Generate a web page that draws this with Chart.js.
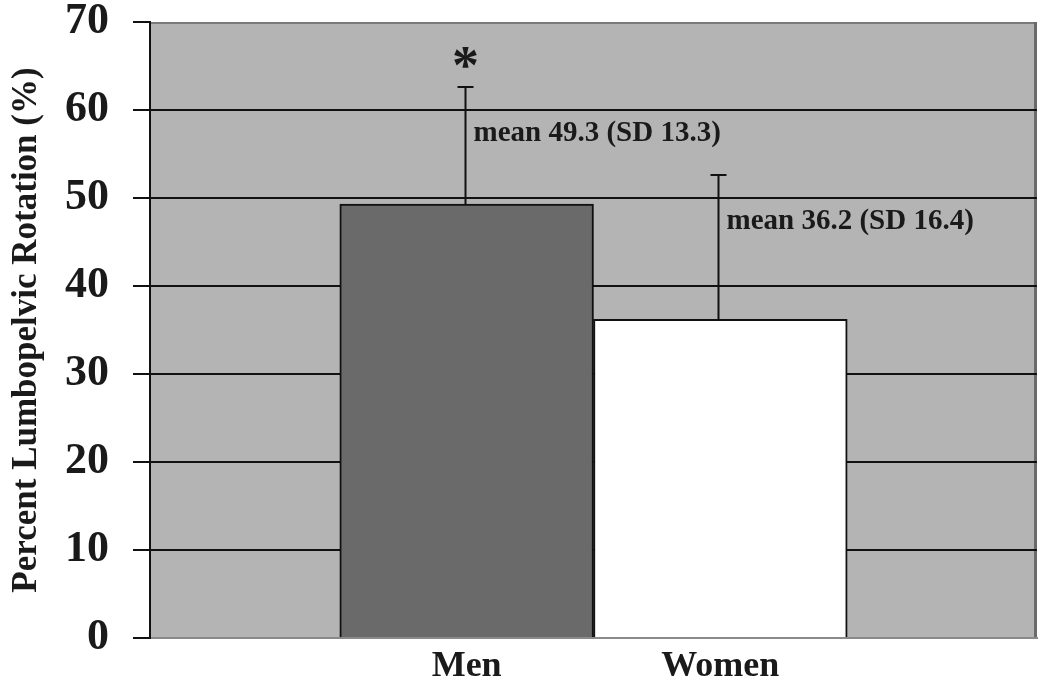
<!DOCTYPE html>
<html>
<head>
<meta charset="utf-8">
<script src="https://cdn.jsdelivr.net/npm/chart.js@4/dist/chart.umd.min.js"></script>
<style>
    html, body { margin: 0; padding: 0; background: #ffffff; }
    #wrap { width: 1050px; height: 682px; }
</style>
</head>
<body>
<div id="wrap"><canvas id="chart" width="1050" height="682"></canvas></div>
<script>
const categories = ['Men', 'Women'];
const means = [49.3, 36.2];
const sds = [13.3, 16.4];
const significance = ['*', ''];
const barColors = ['#6a6a6a', '#ffffff'];
const yTicks = [0, 10, 20, 30, 40, 50, 60, 70];

const serif = '"Liberation Serif", "Times New Roman", serif';
const plotBg = '#b4b4b4';

// grey panel behind the bars plus its frame
const panelPlugin = {
    id: 'panel',
    beforeDraw(chart) {
        const { ctx, chartArea: a } = chart;
        ctx.save();
        ctx.fillStyle = plotBg;
        ctx.fillRect(a.left, a.top, a.right - a.left, a.bottom - a.top);
        ctx.strokeStyle = '#7a7a7a';
        ctx.lineWidth = 2;
        ctx.beginPath();
        ctx.moveTo(a.left, a.top + 1);
        ctx.lineTo(a.right, a.top + 1);
        ctx.stroke();
        ctx.strokeStyle = '#6a6a6a';
        ctx.lineWidth = 3;
        ctx.beginPath();
        ctx.moveTo(a.right - 1.5, a.top);
        ctx.lineTo(a.right - 1.5, a.bottom);
        ctx.stroke();
        ctx.restore();
    }
};

// SD whiskers, annotations and the significance star
const errorPlugin = {
    id: 'errors',
    afterDatasetsDraw(chart) {
        const { ctx, scales: { y } } = chart;
        const meta = chart.getDatasetMeta(0);
        ctx.save();
        meta.data.forEach((bar, i) => {
            const x = Math.round(bar.x) - 1.5;
            const top = y.getPixelForValue(means[i] + sds[i]);
            const base = y.getPixelForValue(means[i]);
            ctx.strokeStyle = '#111';
            ctx.lineWidth = 2;
            ctx.beginPath();
            ctx.moveTo(x, base);
            ctx.lineTo(x, top);
            ctx.moveTo(x - 8, top);
            ctx.lineTo(x + 8, top);
            ctx.stroke();

            ctx.fillStyle = '#1a1a1a';
            ctx.font = 'bold 29px ' + serif;
            ctx.textAlign = 'left';
            ctx.textBaseline = 'middle';
            const labelY = y.getPixelForValue(means[i] + sds[i] - 5.3);
            ctx.fillText(`mean ${means[i]} (SD ${sds[i]})`, x + 8, labelY);

            if (significance[i]) {
                ctx.font = 'bold 54px ' + serif;
                ctx.textAlign = 'center';
                ctx.textBaseline = 'alphabetic';
                const m = ctx.measureText(significance[i]);
                const centerY = top - 30;
                const baseline = centerY + (m.actualBoundingBoxAscent - m.actualBoundingBoxDescent) / 2;
                ctx.fillText(significance[i], x, baseline);
            }
        });
        ctx.restore();
    }
};

new Chart(document.getElementById('chart'), {
    type: 'bar',
    data: {
        datasets: [{
            data: categories.map((c, i) => ({ x: i + 1, y: means[i] })),
            backgroundColor: barColors,
            borderColor: '#111',
            borderWidth: 2,
            barPercentage: 1,
            categoryPercentage: 1
        }]
    },
    options: {
        responsive: false,
        animation: false,
        layout: { padding: { top: 22, right: 13, bottom: 0, left: 0 } },
        plugins: {
            legend: { display: false },
            tooltip: { enabled: false }
        },
        scales: {
            x: {
                type: 'linear',
                offset: false,
                min: -0.248,
                max: 3.248,
                afterBuildTicks: scale => {
                    scale.ticks = categories.map((c, i) => ({ value: i + 1 }));
                },
                afterFit: scale => {
                    scale.height = 44;
                    scale.paddingLeft = 0;
                    scale.paddingRight = 0;
                },
                grid: { display: false, drawTicks: false, offset: false },
                border: { display: true, color: '#8a8a8a', width: 2 },
                ticks: {
                    autoSkip: false,
                    maxRotation: 0,
                    padding: 7,
                    color: '#1a1a1a',
                    font: { family: serif, size: 36, weight: 'bold' },
                    callback: value => categories[value - 1] || ''
                }
            },
            y: {
                min: 0,
                max: 70,
                afterBuildTicks: scale => {
                    scale.ticks = yTicks.map(v => ({ value: v }));
                },
                afterFit: scale => {
                    scale.width = 150;
                    scale.paddingTop = 0;
                    scale.paddingBottom = 0;
                },
                grid: {
                    color: ctx => (ctx.tick && (ctx.tick.value === 0 || ctx.tick.value === 70)) ? 'rgba(0,0,0,0)' : '#111',
                    tickColor: '#111',
                    lineWidth: 2,
                    tickLength: 17
                },
                border: { display: true, color: '#111', width: 2 },
                ticks: {
                    padding: 24,
                    color: '#1a1a1a',
                    font: { family: serif, size: 44, weight: 'bold' }
                },
                title: {
                    display: true,
                    text: 'Percent Lumbopelvic Rotation (%)',
                    color: '#1a1a1a',
                    font: { family: serif, size: 35, weight: 'bold', lineHeight: 1 },
                    padding: { top: 9, bottom: 0 }
                }
            }
        }
    },
    plugins: [panelPlugin, errorPlugin]
});
</script>
</body>
</html>
